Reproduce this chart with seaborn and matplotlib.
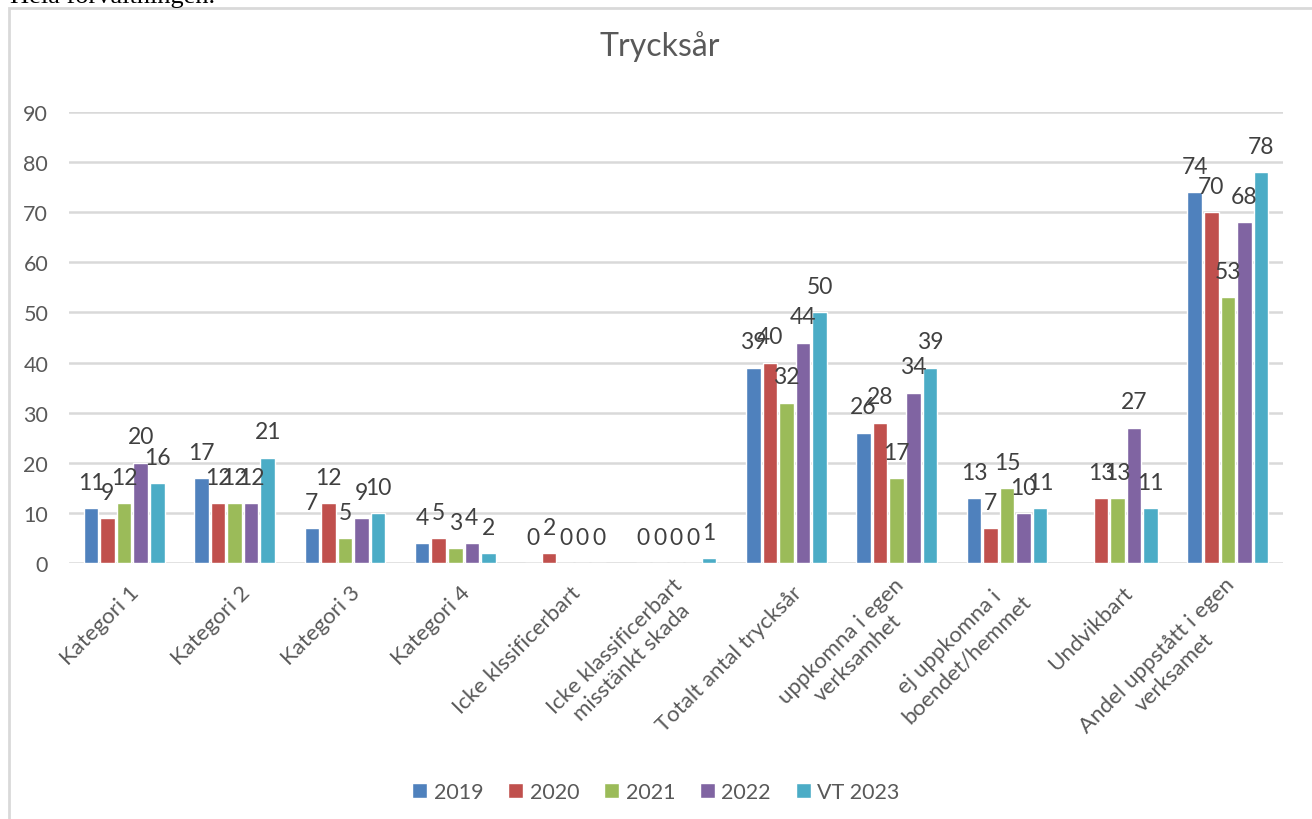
import numpy as np
import pandas as pd
import matplotlib
matplotlib.use("Agg")
import matplotlib.pyplot as plt
import matplotlib.transforms as mtransforms
from matplotlib.patches import Rectangle, Patch
import seaborn as sns

# data
categories = ['Kategori 1', 'Kategori 2', 'Kategori 3', 'Kategori 4',
              'Icke klssificerbart', 'Icke klassificerbart\nmisstänkt skada',
              'Totalt antal trycksår', 'uppkomna i egen\nverksamhet',
              'ej uppkomna i\nboendet/hemmet', 'Undvikbart',
              'Andel uppstått i egen\nverksamet']
years = ['2019', '2020', '2021', '2022', 'VT 2023']
v2019 = [11, 17, 7, 4, 0, 0, 39, 26, 13, np.nan, 74]
v2020 = [9, 12, 12, 5, 2, 0, 40, 28, 7, 13, 70]
v2021 = [12, 12, 5, 3, 0, 0, 32, 17, 15, 13, 53]
v2022 = [20, 12, 9, 4, 0, 0, 44, 34, 10, 27, 68]
vt2023 = [16, 21, 10, 2, 0, 1, 50, 39, 11, 11, 78]
colors = ['#4F81BD', '#C0504D', '#9BBB59', '#8064A2', '#4BACC6']

rows = []
for yr, vals in zip(years, [v2019, v2020, v2021, v2022, vt2023]):
    for cat, v in zip(categories, vals):
        rows.append({'kategori': cat, 'år': yr, 'antal': v})
df = pd.DataFrame(rows)

sns.set_style('white')
plt.rcParams['font.family'] = ['Lato', 'DejaVu Sans']
txt = '#595959'

fig = plt.figure(figsize=(13.12, 8.2), dpi=100)
ax = fig.add_axes([69 / 1312, 1 - 564 / 820, 1214 / 1312, (564 - 113) / 820])

sns.barplot(data=df, x='kategori', y='antal', hue='år', order=categories,
            hue_order=years, palette=colors, width=0.75, gap=0.12,
            saturation=1, ax=ax, legend=False)

for cont in ax.containers:
    ax.bar_label(cont, fmt='%g', padding=11, fontsize=16.5, color='#404040')

ax.set_ylim(0, 90)
ax.set_xlim(-0.5, 10.5)
ax.set_yticks(range(0, 91, 10))
ax.yaxis.grid(True, color='#D9D9D9', linewidth=1.8)
ax.set_axisbelow(True)
for s in ax.spines.values():
    s.set_visible(False)
ax.tick_params(axis='y', length=0, pad=15, labelsize=15.5, labelcolor=txt)
ax.tick_params(axis='x', length=0, pad=19, labelsize=16, labelcolor=txt)
ax.set_xlabel('')
ax.set_ylabel('')

ax.set_xticks(range(len(categories)))
ax.set_xticklabels(categories, rotation=45, ha='right', va='center',
                   rotation_mode='anchor', multialignment='center', linespacing=1.25)
shift = mtransforms.ScaledTranslation(12 / 100, 0, fig.dpi_scale_trans)
for lbl in ax.get_xticklabels():
    lbl.set_transform(lbl.get_transform() + shift)

fig.text(0.503, 1 - 47 / 820, 'Trycksår', ha='center', va='center',
         fontsize=23, color=txt)

handles = [Patch(facecolor=c, label=y) for c, y in zip(colors, years)]
leg = fig.legend(handles=handles, loc='center', bbox_to_anchor=(0.5, 1 - 793 / 820),
                 ncol=5, frameon=False, fontsize=15.5, handlelength=0.7,
                 handleheight=0.7, handletextpad=0.3, columnspacing=1.15)
for t in leg.get_texts():
    t.set_color(txt)

# chart border and the cut-off heading above it
fig.add_artist(Rectangle((9 / 1312, -0.5), 1.2, 1.5 - 9 / 820, transform=fig.transFigure,
                         fill=False, edgecolor='#D9D9D9', linewidth=2))
fig.text(10 / 1312, 1 - 3 / 820, 'Hela förvaltningen.', ha='left', va='baseline',
         fontsize=19, family='Liberation Serif', color='black')

fig.savefig('out.png', dpi=100)
